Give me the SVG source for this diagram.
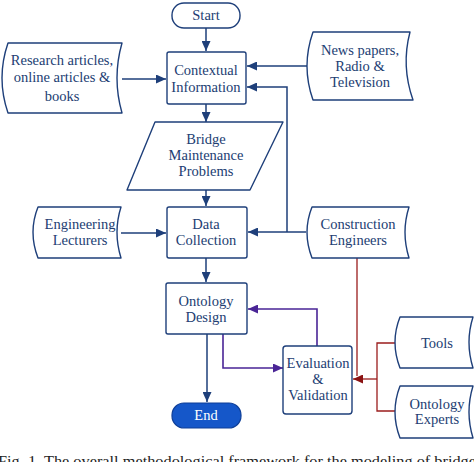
<svg xmlns="http://www.w3.org/2000/svg" width="474" height="462" viewBox="0 0 474 462" font-family="'Liberation Serif', 'DejaVu Serif', serif">
<defs>
<style>
.b{fill:#fff;stroke:#1e3f7a;stroke-width:1.4;stroke-linejoin:round}
.t{font-family:'Liberation Serif','DejaVu Serif',serif;font-size:14.5px;fill:#223d72;text-anchor:middle}
.c{fill:none;stroke:#1e3f7a;stroke-width:1.5}
.p{fill:none;stroke:#4a2596;stroke-width:1.6}
.r{fill:none;stroke:#9a1c1c;stroke-width:1.3}
</style>
<marker id="an" markerUnits="userSpaceOnUse" markerWidth="10" markerHeight="9" refX="10" refY="4.5" orient="auto"><path d="M0,0 L10,4.5 L0,9 z" fill="#1e3f7a"/></marker>
<marker id="ap" markerUnits="userSpaceOnUse" markerWidth="10" markerHeight="9" refX="10" refY="4.5" orient="auto"><path d="M0,0 L10,4.5 L0,9 z" fill="#4a2596"/></marker>
<marker id="ar" markerUnits="userSpaceOnUse" markerWidth="10" markerHeight="9" refX="10" refY="4.5" orient="auto"><path d="M0,0 L10,4.5 L0,9 z" fill="#8a1212"/></marker>
</defs>
<rect width="474" height="462" fill="#fff"/>
<g id="connectors">
<path class="c" d="M206,27 V51" marker-end="url(#an)"/>
<path class="c" d="M122,79 H166" marker-end="url(#an)"/>
<path class="c" d="M307,66 H247" marker-end="url(#an)"/>
<path class="c" d="M306,232 H248" marker-end="url(#an)"/>
<path class="c" d="M287,232 V87 H247" marker-end="url(#an)"/>
<path class="c" d="M206,104 V122" marker-end="url(#an)"/>
<path class="c" d="M206,190 V206" marker-end="url(#an)"/>
<path class="c" d="M121,233 H166" marker-end="url(#an)"/>
<path class="c" d="M206,258 V282" marker-end="url(#an)"/>
<path class="c" d="M207,334 V402" marker-end="url(#an)"/>
<path class="p" d="M223,334 V368 H283" marker-end="url(#ap)"/>
<path class="p" d="M317,346 V309 H248" marker-end="url(#ap)"/>
<path class="r" d="M357,258 V376"/>
<path class="r" d="M377,379 H353" marker-end="url(#ar)"/>
<path class="r" d="M395,343 H377 V411 H395"/>
</g>
<g id="start"><rect class="b" x="172" y="3" width="68" height="25" rx="12"/><text class="t" x="206" y="20">Start</text></g>
<g id="contextual"><rect class="b" x="167" y="52" width="79" height="52" rx="2"/><text class="t" x="206" y="75">Contextual</text><text class="t" x="206" y="92">Information</text></g>
<g id="research"><path class="b" d="M8,43 H122 Q112,78 122,113 H8 Q-4,78 8,43 Z"/><text class="t" x="62" y="65">Research articles,</text><text class="t" x="62" y="82">online articles &amp;</text><text class="t" x="62" y="101">books</text></g>
<g id="news"><path class="b" d="M313,32 H410 Q401,66 413,100 H313 Q301,66 313,32 Z"/><text class="t" x="360" y="55">News papers,</text><text class="t" x="360" y="71">Radio &amp;</text><text class="t" x="360" y="87">Television</text></g>
<g id="bridge"><path class="b" d="M155,122 H283 L250,190 H127 Z"/><text class="t" x="206" y="144">Bridge</text><text class="t" x="206" y="160">Maintenance</text><text class="t" x="206" y="176">Problems</text></g>
<g id="data"><rect class="b" x="167" y="207" width="80" height="51" rx="2"/><text class="t" x="206" y="229">Data</text><text class="t" x="206" y="245">Collection</text></g>
<g id="lecturers"><path class="b" d="M38,207 H121 Q113,232 121,258 H38 Q28,232 38,207 Z"/><text class="t" x="80" y="229">Engineering</text><text class="t" x="80" y="245">Lecturers</text></g>
<g id="construction"><path class="b" d="M312,207 H409 Q401,232 409,258 H312 Q302,232 312,207 Z"/><text class="t" x="358" y="229">Construction</text><text class="t" x="358" y="245">Engineers</text></g>
<g id="ontology"><rect class="b" x="166" y="283" width="81" height="51" rx="2"/><text class="t" x="206" y="306">Ontology</text><text class="t" x="206" y="322">Design</text></g>
<g id="evaluation"><rect class="b" x="283" y="346" width="69" height="68" rx="3"/><text class="t" x="318" y="368">Evaluation</text><text class="t" x="318" y="384">&amp;</text><text class="t" x="318" y="400">Validation</text></g>
<g id="tools"><path class="b" d="M400,317 H473 Q465,342 473,368 H400 Q390,342 400,317 Z"/><text class="t" x="437" y="348">Tools</text></g>
<g id="experts"><path class="b" d="M400,386 H473 Q465,412 473,438 H400 Q390,412 400,386 Z"/><text class="t" x="437" y="409">Ontology</text><text class="t" x="437" y="424">Experts</text></g>
<g id="end"><rect x="172" y="403" width="69" height="25" rx="12" fill="#1557c9" stroke="#0f3f98" stroke-width="1.2"/><text class="t" x="206" y="420" style="fill:#fff">End</text></g>
<text x="-2" y="466" font-size="15" fill="#222" textLength="478" lengthAdjust="spacingAndGlyphs">Fig. 1.  The overall methodological framework for the modeling of bridge</text>
</svg>
